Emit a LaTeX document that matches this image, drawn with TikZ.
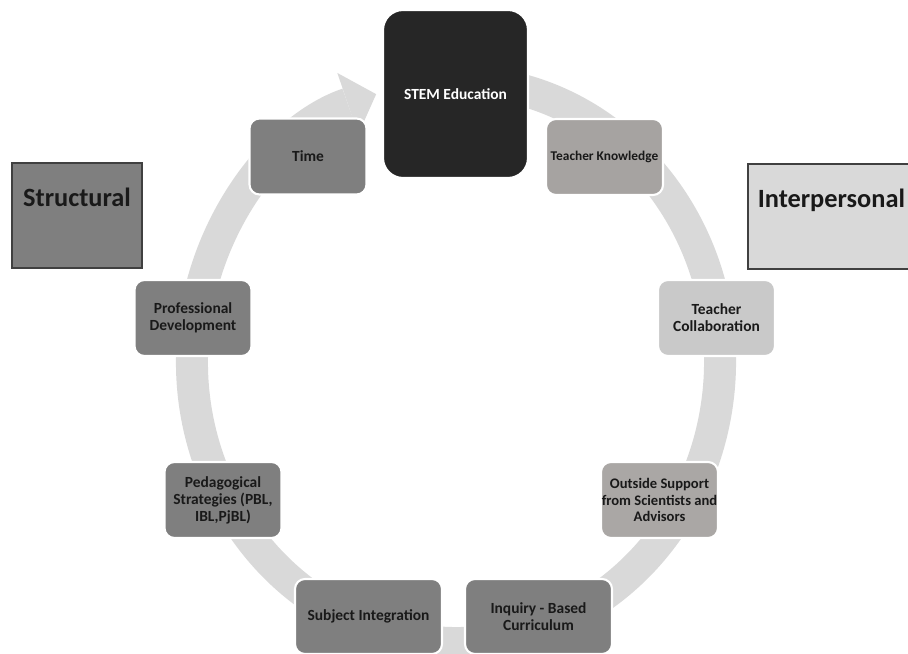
\documentclass[tikz,border=0pt]{standalone}
\usepackage{fontspec}
\setmainfont{Carlito}
\usepackage{xcolor}
\usepackage{tikz}
\usetikzlibrary{arrows.meta, positioning}
\definecolor{ringgray}{RGB}{217,217,217}
\definecolor{stemdark}{RGB}{38,38,38}
\definecolor{boxgray}{RGB}{127,127,127}
\definecolor{knowgray}{RGB}{166,163,161}
\definecolor{collabgray}{RGB}{201,201,201}
\definecolor{supportgray}{RGB}{170,167,165}
\definecolor{sidedark}{RGB}{64,64,64}

\begin{document}
\begin{tikzpicture}[
    cyclebox/.style={draw=white, line width=1.2pt, rounded corners=0.2cm, minimum width=2.34cm, minimum height=1.52cm, align=center, inner sep=2pt, text=black!90, font=\bfseries\fontsize{8.8}{9.7}\selectfont},
    sidebox/.style={draw=sidedark, line width=0.9pt, minimum height=2.1cm, text=black!90, font=\bfseries\fontsize{15}{18}\selectfont, text height=0.34cm, text depth=0.7cm}
]
    % Canvas
    \useasboundingbox (0,0) rectangle (18.16,13.08);
    \clip (0,0) rectangle (18.16,13.08);

    % The Cycle Ring
    \coordinate (ringc) at (9.12,5.84);
    \draw[ringgray, line width=0.64cm, -{Triangle[length=0.6cm, width=1.3cm, line width=0pt]}]
        ([shift={(80:5.28 and 5.62)}]ringc) arc[start angle=80, end angle=-252.4, x radius=5.28cm, y radius=5.62cm];

    % Centre of the cycle
    \node[cyclebox, fill=stemdark, text=white, rounded corners=0.4cm, minimum width=2.9cm, minimum height=3.36cm, font=\bfseries\fontsize{8.8}{10}\selectfont] (stem) at (9.11,11.2) {STEM Education};

    % Structural side (left)
    \node[cyclebox, fill=boxgray] (time) at (6.16,9.95) {Time};
    \node[cyclebox, fill=boxgray] (profdev) at (3.86,6.72) {Professional\\Development};
    \node[cyclebox, fill=boxgray] (pedagogy) at (4.46,3.08) {Pedagogical\\Strategies (PBL,\\IBL,PjBL)};
    \node[cyclebox, fill=boxgray, minimum width=2.94cm, minimum height=1.5cm] (integration) at (7.37,0.75) {Subject Integration};

    % Interpersonal side (right)
    \node[cyclebox, fill=knowgray, font=\bfseries\fontsize{7.6}{8.5}\selectfont] (knowledge) at (12.09,9.94) {Teacher Knowledge};
    \node[cyclebox, fill=collabgray] (collab) at (14.33,6.72) {Teacher\\Collaboration};
    \node[cyclebox, fill=supportgray, inner xsep=0pt, font=\bfseries\fontsize{8.3}{9.4}\selectfont] (support) at (13.19,3.08) {Outside Support\\from Scientists and\\Advisors};
    \node[cyclebox, fill=boxgray, minimum width=2.94cm, minimum height=1.5cm] (inquiry) at (10.77,0.75) {Inquiry - Based\\Curriculum};

    % Side Labels
    \node[sidebox, fill=boxgray, minimum width=2.6cm] (structural) at (1.54,8.77) {Structural};
    \node[sidebox, fill=ringgray, anchor=north west, text width=3.2cm, align=left, inner xsep=0.2cm] (interpersonal) at (14.94,9.82) {Interpersonal};
\end{tikzpicture}
\end{document}
